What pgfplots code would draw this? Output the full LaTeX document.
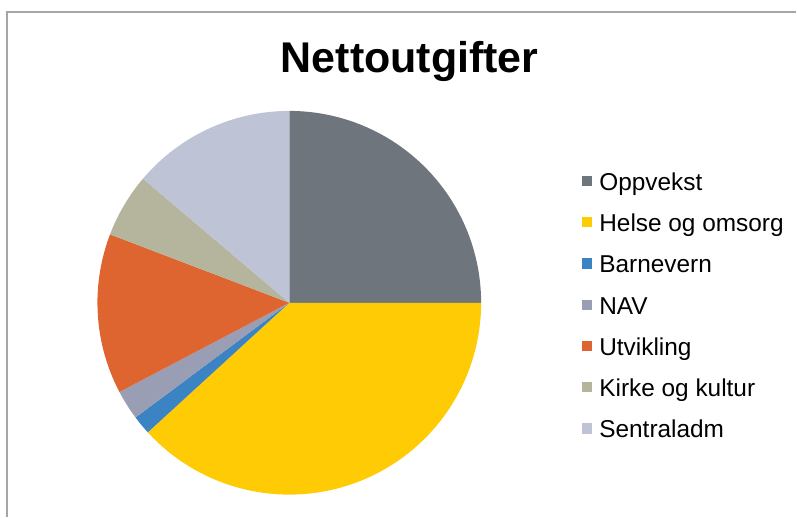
\documentclass[border=0pt]{standalone}
\usepackage{pgfplots}
\pgfplotsset{compat=1.18}
\usepackage{fontspec}
\setmainfont{Liberation Sans}
\definecolor{cOpp}{HTML}{6F757D}
\definecolor{cHel}{HTML}{FFCB05}
\definecolor{cBar}{HTML}{3B83C2}
\definecolor{cNav}{HTML}{9A9EB5}
\definecolor{cUtv}{HTML}{DE6430}
\definecolor{cKir}{HTML}{B4B59C}
\definecolor{cSen}{HTML}{BEC3D5}
% shares in percent: Oppvekst 25.0, Helse og omsorg 38.2, Barnevern 1.6,
% NAV 2.5, Utvikling 13.5, Kirke og kultur 5.4, Sentraladm 13.8
% cumulative boundaries (percent): 0, 25.0, 63.2, 64.8, 67.3, 80.8, 86.2, 100
\newcommand{\ang}[1]{90-3.6*#1}
\begin{document}
\begin{tikzpicture}
\begin{axis}[
  width=398.5pt, height=258.5pt, scale only axis,
  xmin=0, xmax=797, ymin=0, ymax=517,
  hide axis, clip=false,
  legend cell align=left,
  legend style={draw=none, fill=none, at={(axis cs:576,349)}, anchor=north west,
    font=\fontsize{12.2}{14}\selectfont, row sep=9.15pt, column sep=3.5pt,
    nodes={inner sep=0pt, text height=9pt, text depth=2.5pt}},
  legend image code/.code={\fill[#1] (0pt,-1.2pt) rectangle (5.2pt,4pt);},
]
\path (axis cs:0,0) rectangle (axis cs:797,517);
\draw[gray!70, line width=0.6pt] (axis cs:7,0) -- (axis cs:7,505) -- (axis cs:797,505);

\addplot[fill=cOpp, draw=none, domain={\ang{25.0}}:{\ang{0}}, samples=46, variable=\t]
  ({289.5+192*cos(t)},{214+192*sin(t)}) -- (axis cs:289.5,214) -- cycle;
\addplot[fill=cHel, draw=none, domain={\ang{63.2}}:{\ang{25.0}}, samples=70, variable=\t]
  ({289.5+192*cos(t)},{214+192*sin(t)}) -- (axis cs:289.5,214) -- cycle;
\addplot[fill=cBar, draw=none, domain={\ang{64.8}}:{\ang{63.2}}, samples=5, variable=\t]
  ({289.5+192*cos(t)},{214+192*sin(t)}) -- (axis cs:289.5,214) -- cycle;
\addplot[fill=cNav, draw=none, domain={\ang{67.3}}:{\ang{64.8}}, samples=6, variable=\t]
  ({289.5+192*cos(t)},{214+192*sin(t)}) -- (axis cs:289.5,214) -- cycle;
\addplot[fill=cUtv, draw=none, domain={\ang{80.8}}:{\ang{67.3}}, samples=26, variable=\t]
  ({289.5+192*cos(t)},{214+192*sin(t)}) -- (axis cs:289.5,214) -- cycle;
\addplot[fill=cKir, draw=none, domain={\ang{86.2}}:{\ang{80.8}}, samples=11, variable=\t]
  ({289.5+192*cos(t)},{214+192*sin(t)}) -- (axis cs:289.5,214) -- cycle;
\addplot[fill=cSen, draw=none, domain={\ang{100}}:{\ang{86.2}}, samples=26, variable=\t]
  ({289.5+192*cos(t)},{214+192*sin(t)}) -- (axis cs:289.5,214) -- cycle;

\legend{Oppvekst, Helse og omsorg, Barnevern, NAV, Utvikling, Kirke og kultur, Sentraladm}

\node[font=\fontsize{21.5}{26}\selectfont\bfseries, anchor=base] at (axis cs:410,444) {Nettoutgifter};
\end{axis}
\end{tikzpicture}
\end{document}
